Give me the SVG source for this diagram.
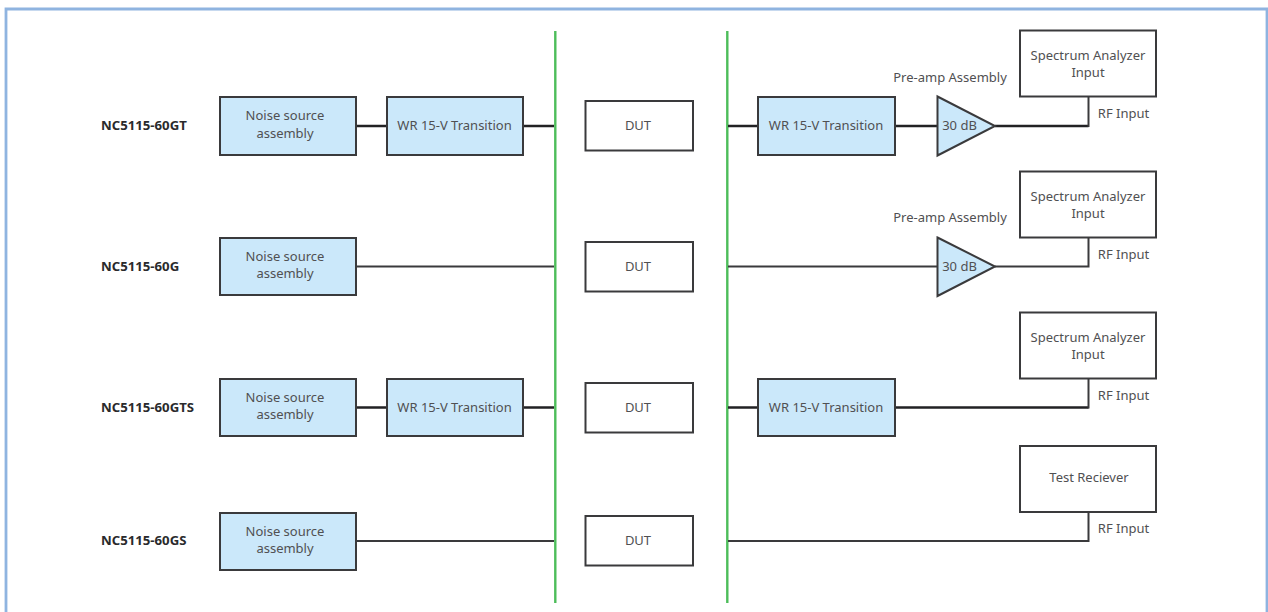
<svg xmlns="http://www.w3.org/2000/svg" width="1268" height="612" viewBox="0 0 1268 612">
<style>
text{font-family:"Noto Sans","Open Sans",sans-serif;font-size:13px;fill:#505052;text-anchor:middle}
.id{font-weight:700;font-size:13.2px;fill:#2a2a2c;text-anchor:start}
.b{fill:#cbe8fa;stroke:#3a3a3c;stroke-width:2}
.w{fill:#fff;stroke:#3a3a3c;stroke-width:2}
.c{fill:none;stroke:#3a3a3c;stroke-width:2}
.t{fill:none;stroke:#222224;stroke-width:2.4}
.g{fill:none;stroke:#4dbd5a;stroke-width:2.4}
</style>
<path d="M6 612V9H1267V612" fill="none" stroke="#8fb4e0" stroke-width="2.8"/>
<g id="connectors">
<path class="g" d="M555.300 31V603M727.300 31V603"/>
<path class="t" d="M356 126H386M523 126H554M728 126H758M895 126H937M995 126H1088.500"/>
<path class="c" d="M1088.500 127V97"/>
<path class="c" d="M356 266.500H554M728 266.500H937M995 266.500H1088.500V238"/>
<path class="t" d="M356 407.500H386M523 407.500H554M728 407.500H758M895 407.500H1088.500"/>
<path class="c" d="M1088.500 408.500V379"/>
<path class="c" d="M356 541H554M728 541H1088.500V512"/>
</g>
<g id="label1"><text class="id" x="101" y="130">NC5115-60GT</text></g>
<g id="label2"><text class="id" x="101" y="271">NC5115-60G</text></g>
<g id="label3"><text class="id" x="101" y="412">NC5115-60GTS</text></g>
<g id="label4"><text class="id" x="101" y="545">NC5115-60GS</text></g>
<g id="ns1"><rect class="b" x="220" y="97" width="136" height="58"/><text x="285" y="120">Noise source</text><text x="285" y="138">assembly</text></g>
<g id="ns2"><rect class="b" x="220" y="238" width="136" height="57"/><text x="285" y="261">Noise source</text><text x="285" y="278">assembly</text></g>
<g id="ns3"><rect class="b" x="220" y="379" width="136" height="57"/><text x="285" y="402">Noise source</text><text x="285" y="419">assembly</text></g>
<g id="ns4"><rect class="b" x="220" y="513" width="136" height="57"/><text x="285" y="536">Noise source</text><text x="285" y="553">assembly</text></g>
<g id="wrl1"><rect class="b" x="387" y="97" width="136" height="58"/><text x="454.500" y="130">WR 15-V Transition</text></g>
<g id="wrl3"><rect class="b" x="387" y="379" width="136" height="57"/><text x="454.500" y="412">WR 15-V Transition</text></g>
<g id="dut1"><rect class="w" x="585.500" y="101" width="107.500" height="49.500"/><text x="638" y="130">DUT</text></g>
<g id="dut2"><rect class="w" x="585.500" y="242" width="107.500" height="49.500"/><text x="638" y="271">DUT</text></g>
<g id="dut3"><rect class="w" x="585.500" y="383" width="107.500" height="49.500"/><text x="638" y="412">DUT</text></g>
<g id="dut4"><rect class="w" x="585.500" y="516" width="107.500" height="49.500"/><text x="638" y="545">DUT</text></g>
<g id="wrr1"><rect class="b" x="758" y="97" width="137" height="58"/><text x="826" y="130">WR 15-V Transition</text></g>
<g id="wrr3"><rect class="b" x="758" y="379" width="137" height="57"/><text x="826" y="412">WR 15-V Transition</text></g>
<g id="amp1"><path class="b" d="M937.500 96.500L995 126L937.500 155.500Z"/><text x="959.500" y="130">30 dB</text><text x="950" y="82">Pre-amp Assembly</text></g>
<g id="amp2"><path class="b" d="M937.500 237.500L995 266.500L937.500 296Z"/><text x="959.500" y="271">30 dB</text><text x="950" y="222">Pre-amp Assembly</text></g>
<g id="sa1"><rect class="w" x="1020" y="30.500" width="136" height="66"/><text x="1088" y="60">Spectrum Analyzer</text><text x="1088" y="77">Input</text><text x="1123.500" y="118">RF Input</text></g>
<g id="sa2"><rect class="w" x="1020" y="171.500" width="136" height="66"/><text x="1088" y="201">Spectrum Analyzer</text><text x="1088" y="218">Input</text><text x="1123.500" y="259">RF Input</text></g>
<g id="sa3"><rect class="w" x="1020" y="312.500" width="136" height="66"/><text x="1088" y="342">Spectrum Analyzer</text><text x="1088" y="359">Input</text><text x="1123.500" y="400">RF Input</text></g>
<g id="tr"><rect class="w" x="1020" y="446" width="136" height="66"/><text x="1089" y="482">Test Reciever</text><text x="1123.500" y="533">RF Input</text></g>
</svg>
